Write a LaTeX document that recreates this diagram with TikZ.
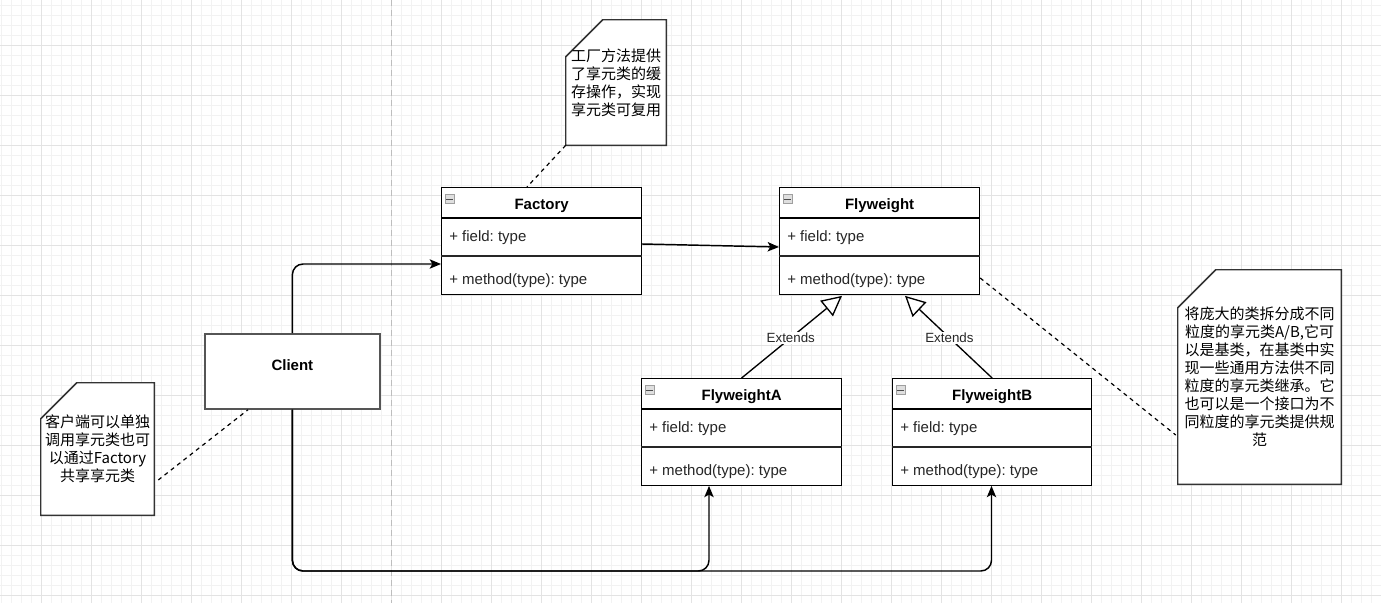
\documentclass[tikz,border=0pt]{standalone}
\usepackage{fontspec}
\setmainfont{Liberation Sans}
\newfontfamily\cjk{Noto Sans CJK SC}
\usetikzlibrary{arrows.meta,calc}
\frenchspacing
\pgfdeclarelayer{bg}
\pgfsetlayers{bg,main}
\definecolor{gminorc}{HTML}{F2F2F2}
\definecolor{gmajorc}{HTML}{E3E3E3}
\definecolor{sepc}{HTML}{BDBDBD}
\definecolor{boxgray}{HTML}{555555}
\definecolor{notegray}{HTML}{333333}
\tikzset{
  gminor/.style={draw=gminorc, line width=0.75pt},
  gmajor/.style={draw=gmajorc, line width=0.75pt},
  sepline/.style={draw=sepc, line width=0.75pt, dash pattern=on 4.5pt off 3pt},
  clsbox/.style={draw=black, line width=0.9pt, fill=white, anchor=north west, inner sep=0pt, minimum height=80pt},
  clssep/.style={draw=black, line width=0.9pt},
  clsdiv/.style={draw=black!85, line width=1.3pt},
  clshdr/.style={font=\fontsize{11.25pt}{13pt}\selectfont\bfseries, inner sep=0pt},
  clsmem/.style={font=\fontsize{11.25pt}{13pt}\selectfont, text=black!85, anchor=west, inner sep=0pt},
  clsicon/.style={draw=gray!75, fill=gray!25, line width=0.5pt, minimum size=6.5pt, inner sep=0pt},
  clientbox/.style={draw=boxgray, line width=1.3pt, fill=white, anchor=north west, inner sep=0pt, minimum width=131.25pt, minimum height=56.25pt},
  notebox/.style={rectangle, inner sep=1pt, align=center,
     font=\cjk\fontsize{11.25pt}{13.5pt}\selectfont},
  noteshape/.style={draw=notegray, line width=1.1pt, fill=white},
  assoc/.style={draw=black, line width=1.1pt, -{Stealth[length=8.5pt, width=7pt, inset=2pt]}},
  extline/.style={draw=black, line width=1pt, -{Triangle[open, length=15pt, width=15pt, fill=white]}},
  extlbl/.style={fill=white, inner sep=1pt, font=\fontsize{10pt}{12pt}\selectfont, text=black!85},
  noteline/.style={draw=black, line width=0.9pt, dash pattern=on 3pt off 3pt},
}
\newcommand{\umlcls}[5]{%
  \node[clsbox, minimum width=#4] (#1) at (#2,#3) {};
  \draw[clssep] ($(#1.north west)+(0,31)$) -- ($(#1.north east)+(0,31)$);
  \draw[clsdiv] ($(#1.north west)+(0,69)$) -- ($(#1.north east)+(0,69)$);
  \node[clshdr] (#1-t) at ($(#1.north)+(0,19)$) {#5};
  \node[clsmem] (#1-f) at ($(#1.north west)+(8,50.5)$) {+ field: type};
  \node[clsmem] (#1-m) at ($(#1.north west)+(8,93.5)$) {+ method(type): type};
  \node[clsicon] (#1-i) at ($(#1.north west)+(8.5,12)$) {};
  \draw[draw=black!70, line width=0.6pt] ($(#1-i.west)+(1.5,0)$) -- ($(#1-i.east)+(-1.5,0)$);
}
\newcommand{\noteoutline}[2]{%
  \begin{pgfonlayer}{bg}
  \draw[noteshape] ($(#1.north west)+(0,#2)$) -- ($(#1.north west)+(#2,0)$) -- (#1.north east)
     -- (#1.south east) -- (#1.south west) -- cycle;
  \end{pgfonlayer}
}
\begin{document}
\begin{tikzpicture}[x=0.75pt,y=-0.75pt]
\useasboundingbox (0,0) rectangle (1381,603);
\begin{pgfonlayer}{bg}
\fill[white] (0,0) rectangle (1381,603);
\foreach \x in {1.7,11.7,...,1381} \draw[gminor] (\x,0) -- (\x,603);
\foreach \y in {5,15,...,603} \draw[gminor] (0,\y) -- (1381,\y);
\foreach \x in {41.7,91.7,...,1381} \draw[gmajor] (\x,0) -- (\x,603);
\foreach \y in {45,95,...,603} \draw[gmajor] (0,\y) -- (1381,\y);
\draw[sepline] (391.7,0) -- (391.7,603);
\end{pgfonlayer}

% classes
\umlcls{factory}{441}{187}{150pt}{Factory}
\umlcls{fly}{779}{187}{150pt}{Flyweight}
\umlcls{flyA}{641}{378}{150pt}{FlyweightA}
\umlcls{flyB}{892}{378}{149.25pt}{FlyweightB}

% client
\node[clientbox] (client) at (204,333) {};
\node[clshdr] (clientlbl) at ($(client.north)+(0,32)$) {Client};

% notes
\node[notebox, minimum width=75pt, minimum height=93.75pt] (noteF) at (616,82.5)
  {工厂方法提供\\了享元类的缓\\存操作，实现\\享元类可复用};
\noteoutline{noteF}{37}
\node[notebox, minimum width=84.75pt, minimum height=99pt] (noteC) at (97.5,449)
  {客户端可以单独\\调用享元类也可\\以通过Factory\\共享享元类};
\noteoutline{noteC}{36}
\node[notebox, minimum width=122.25pt, minimum height=160.5pt] (noteR) at (1259.5,377)
  {将庞大的类拆分成不同\\粒度的享元类A/B,它可\\以是基类，在基类中实\\现一些通用方法供不同\\粒度的享元类继承。它\\也可以是一个接口为不\\同粒度的享元类提供规\\范};
\noteoutline{noteR}{38}

% dashed note connectors
\draw[noteline] ($(noteF.south west)$) -- ($(factory.north west)+(86,0)$);
\draw[noteline] ($(noteC.east)+(4,31)$) -- ($(client.south west)+(44,0)$);
\draw[noteline] ($(fly.north east)+(0,91)$) -- ($(noteR.west)+(-2,58)$);

% associations
\draw[assoc] ($(factory.north east)+(0,57)$) -- ($(fly.north west)+(0,60)$);
\coordinate (cf) at ($(factory.north west)+(0,77)$);
\draw[assoc, rounded corners=8pt] (client.north) |- (cf);
\coordinate (busA) at (709,571);
\coordinate (busB) at (991.5,571);
\draw[assoc, rounded corners=8pt] (client.south) |- (busA) -- (flyA.south -| busA);
\draw[assoc, rounded corners=8pt] (client.south) |- (busB) -- (flyB.south -| busB);

% extends
\draw[extline] (flyA.north) -- node[pos=0.49, extlbl] (extA) {Extends} ($(fly.south west)+(63,1)$);
\draw[extline] (flyB.north) -- node[pos=0.49, extlbl] (extB) {Extends} ($(fly.south west)+(126,1)$);
\end{tikzpicture}
\end{document}
